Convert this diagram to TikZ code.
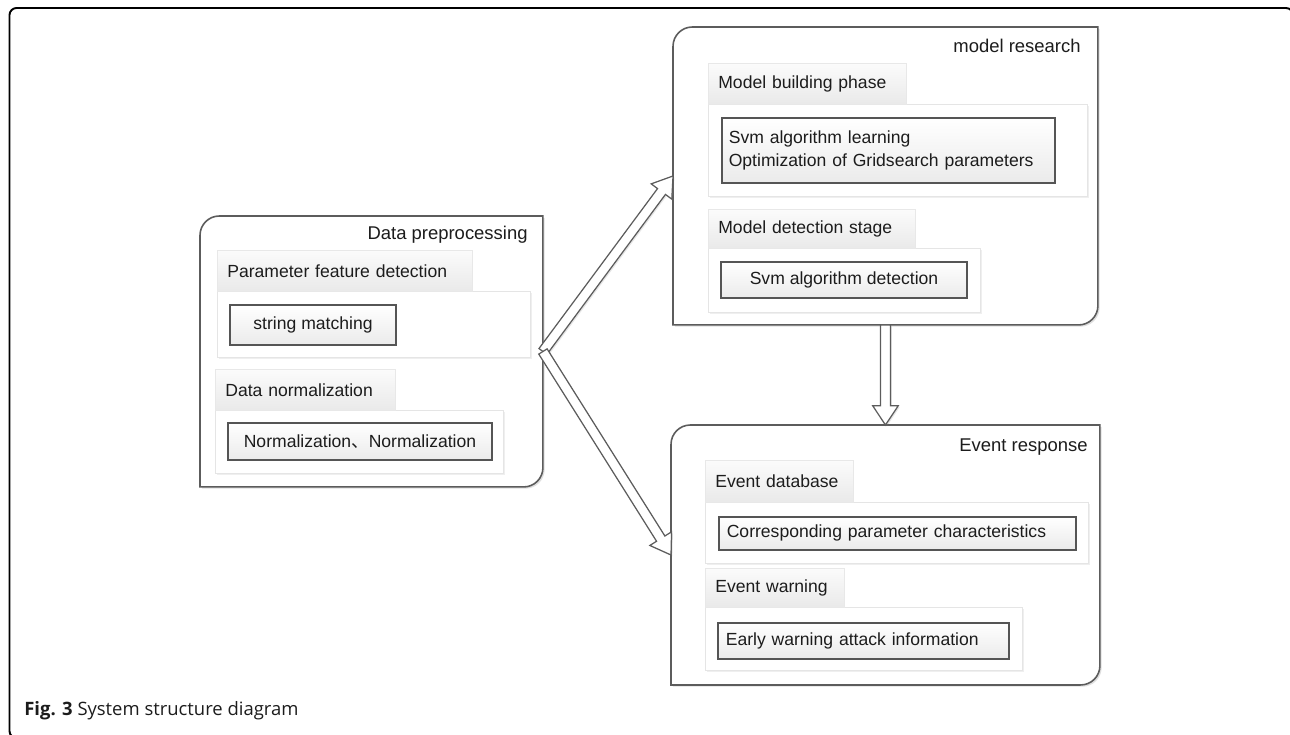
\documentclass[tikz,border=0pt]{standalone}
\usepackage{fontspec}
\setmainfont{Liberation Sans}
\newfontfamily\cjk{Noto Sans CJK SC}
\newfontfamily\capfont{Open Sans}
\usetikzlibrary{calc,shadows}

\definecolor{stagegray}{HTML}{5C5C5C}
\definecolor{itemgray}{HTML}{555555}
\definecolor{textgray}{HTML}{1C1C1C}

% outline of a stage: round corners top left and bottom right
\newcommand\stageoutline[1]{%
  \draw[stageline] (#1.south west) -- ([yshift=-11pt]#1.north west)
    arc[start angle=180, end angle=90, radius=11pt] -- (#1.north east)
    -- ([yshift=11pt]#1.south east) arc[start angle=0, end angle=-90, radius=11pt] -- cycle;}

% hollow block arrow from #1 to #2
\newcommand\hollowarrow[2]{%
  \coordinate (ah) at ($(#2)!11pt!(#1)$);
  \draw[arrowline] ($(#1)!2.8pt!90:(#2)$) -- ($(ah)!2.8pt!90:(#2)$) -- ($(ah)!7.3pt!90:(#2)$)
    -- (#2) -- ($(ah)!7.3pt!-90:(#2)$) -- ($(ah)!2.8pt!-90:(#2)$) -- ($(#1)!2.8pt!-90:(#2)$) -- cycle;}

\begin{document}
\begin{tikzpicture}[x=0.02cm, y=-0.02cm,
    every node/.style={text=textgray, font=\fontsize{10}{13}\selectfont},
    stage/.style={anchor=north west, inner sep=0, outer sep=0},
    stageline/.style={draw=stagegray, line width=0.9pt, fill=white,
      drop shadow={opacity=0.25, shadow xshift=1pt, shadow yshift=-1pt}},
    stagetitle/.style={anchor=east, inner sep=0, font=\fontsize{10.5}{13}\selectfont},
    tab/.style={anchor=north west, draw=gray!18, top color=gray!3, bottom color=gray!17,
      inner xsep=0.2cm, inner ysep=0, align=left},
    panel/.style={anchor=north west, draw=gray!20, fill=white, inner sep=0,
      drop shadow={opacity=0.12, shadow xshift=0.8pt, shadow yshift=-0.8pt}},
    itembox/.style={draw=itemgray, line width=0.9pt, top color=white, bottom color=gray!16,
      inner sep=0, drop shadow={opacity=0.25, shadow xshift=0.8pt, shadow yshift=-0.8pt}},
    arrowline/.style={draw=stagegray, line width=0.7pt, fill=white, line join=miter,
      drop shadow={opacity=0.2, shadow xshift=0.8pt, shadow yshift=-0.8pt}}]
  \useasboundingbox (0,0) rectangle (1290,734);
  \draw[line width=1.1pt, rounded corners=4pt] (9.5,8) rectangle (1293,738);

  % data preprocessing
  \node[stage, minimum width=6.86cm, minimum height=5.42cm] (dp) at (200,216) {};
  \stageoutline{dp}
  \node[stagetitle] (dptitle) at ($(dp.north east)+(-15,19)$) {Data preprocessing};
  \node[panel, minimum width=6.26cm, minimum height=1.32cm] (pfdpanel) at (217,291) {};
  \node[tab, text width=4.7cm, minimum height=0.82cm] (pfdtab) at (217,250) {Parameter feature detection};
  \node[itembox, minimum width=3.32cm, minimum height=0.8cm] (strmatch) at (313,325) {string matching};
  \node[panel, minimum width=5.76cm, minimum height=1.26cm] (dnpanel) at (215,410) {};
  \node[tab, text width=3.2cm, minimum height=0.82cm] (dntab) at (215,369) {Data normalization};
  \node[itembox, minimum width=5.28cm, minimum height=0.74cm] (normbox) at (360,441.5) {Normalization{\cjk 、}Normalization};

  % model research
  \node[stage, minimum width=8.5cm, minimum height=5.96cm] (mr) at (673,27) {};
  \stageoutline{mr}
  \node[stagetitle] (mrtitle) at ($(mr.north east)+(-17,19)$) {model research};
  \node[panel, minimum width=7.58cm, minimum height=1.84cm] (mbppanel) at (708,104) {};
  \node[tab, text width=3.56cm, minimum height=0.82cm] (mbptab) at (708,63) {Model building phase};
  \node[itembox, anchor=north west, minimum height=1.3cm, inner xsep=0.14cm, text width=6.38cm, align=left] (svmlearn) at (721,117)
    {Svm algorithm learning\\Optimization of Gridsearch parameters};
  \node[panel, minimum width=5.44cm, minimum height=1.28cm] (mdspanel) at (708,248) {};
  \node[tab, text width=3.74cm, minimum height=0.78cm] (mdstab) at (708,209) {Model detection stage};
  \node[itembox, minimum width=4.92cm, minimum height=0.72cm] (svmdetect) at (844,280) {Svm algorithm detection};

  % event response
  \node[stage, minimum width=8.58cm, minimum height=5.2cm] (er) at (671,425) {};
  \stageoutline{er}
  \node[stagetitle] (ertitle) at ($(er.north east)+(-12,22)$) {Event response};
  \node[panel, minimum width=7.66cm, minimum height=1.22cm] (edbpanel) at (705,502) {};
  \node[tab, text width=2.56cm, minimum height=0.84cm] (edbtab) at (705,460) {Event database};
  \node[itembox, anchor=north west, minimum height=0.66cm, inner xsep=0.16cm, text width=6.82cm, align=left] (cpcbox) at (718,516)
    {Corresponding parameter characteristics};
  \node[panel, minimum width=6.34cm, minimum height=1.26cm] (ewpanel) at (705,607) {};
  \node[tab, text width=2.38cm, minimum height=0.78cm] (ewtab) at (705,568) {Event warning};
  \node[itembox, anchor=north west, minimum height=0.72cm, inner xsep=0.16cm, text width=5.5cm, align=left] (ewaibox) at (717,622)
    {Early warning attack information};

  % connectors
  \hollowarrow{dp.east}{mr.west}
  \hollowarrow{dp.east}{er.west}
  \hollowarrow{mr.south}{er.north}

  \node[anchor=west, inner sep=0, font=\capfont\fontsize{10.5}{12}\selectfont] (caption) at (24,711)
    {\textbf{Fig. 3} System structure diagram};
\end{tikzpicture}
\end{document}
